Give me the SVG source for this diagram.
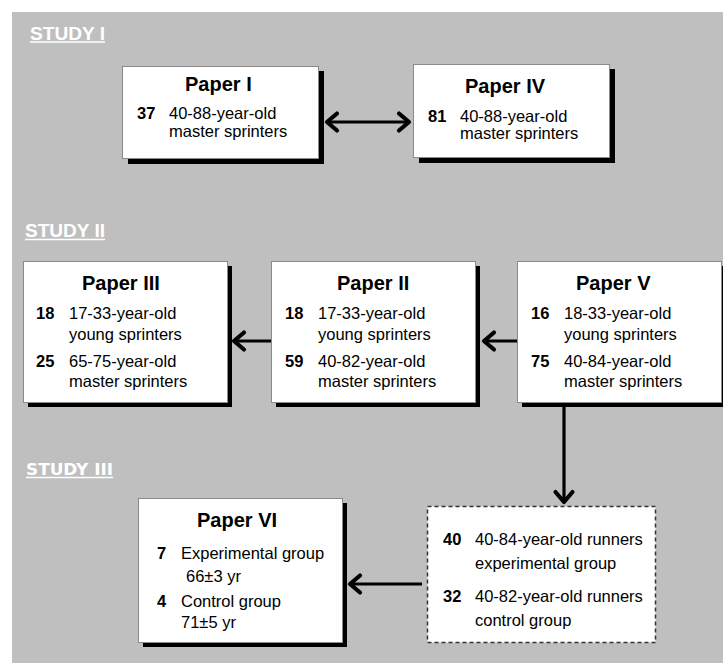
<svg xmlns="http://www.w3.org/2000/svg" width="723" height="663" viewBox="0 0 723 663">
<defs>
<style>
.bg{fill:#bfbfbf}
.box{fill:#fff;stroke:#8a8a8a;stroke-width:1}
.dbox{fill:#fff;stroke:#333;stroke-width:1.5;stroke-dasharray:4 3}
.sh{fill:#000}
.t{font-family:"Liberation Sans",Arial,sans-serif;font-weight:bold;font-size:20px;fill:#000}
.n{font-family:"Liberation Sans",Arial,sans-serif;font-weight:bold;font-size:16.5px;fill:#000}
.b{font-family:"Liberation Sans",Arial,sans-serif;font-size:16.5px;fill:#000}
.st{font-family:"Liberation Sans",Arial,sans-serif;font-weight:bold;font-size:18px;fill:#fff}
.st3{font-family:"DejaVu Sans",Verdana,sans-serif;font-weight:bold;font-size:15px;fill:#fff}
.ul{stroke:#fff;stroke-width:1.5}
.ar{stroke:#000;stroke-width:3.2;fill:none}
</style>
<marker id="ah" markerUnits="userSpaceOnUse" markerWidth="24" markerHeight="24" viewBox="-14 -12 16 24" refX="0" refY="0" orient="auto-start-reverse">
<path d="M-11,-8.5 L-1,0 L-11,8.5" fill="none" stroke="#000" stroke-width="4.2" stroke-linecap="round" stroke-linejoin="round"/>
</marker>
</defs>
<rect class="bg" x="12" y="12" width="711" height="651"/>

<g id="study1-label">
<text class="st" x="30" y="40" textLength="75" lengthAdjust="spacingAndGlyphs">STUDY I</text>
<line class="ul" x1="30" y1="42" x2="105" y2="42"/>
</g>
<g id="study2-label">
<text class="st" x="25" y="237" textLength="80" lengthAdjust="spacingAndGlyphs">STUDY II</text>
<line class="ul" x1="25" y1="239.5" x2="105" y2="239.5"/>
</g>
<g id="study3-label">
<text class="st3" x="26" y="475" textLength="87" lengthAdjust="spacingAndGlyphs">STUDY III</text>
<line class="ul" x1="26" y1="477.5" x2="113" y2="477.5"/>
</g>

<g id="paper1">
<rect class="sh" x="128" y="71" width="196" height="93"/>
<rect class="box" x="122.5" y="66.5" width="196" height="92"/>
<text class="t" x="185" y="91">Paper I</text>
<text class="n" x="137" y="119">37</text>
<text class="b" x="169" y="119">40-88-year-old</text>
<text class="b" x="169" y="136.5">master sprinters</text>
</g>

<g id="paper4">
<rect class="sh" x="419" y="69" width="196" height="94"/>
<rect class="box" x="413.5" y="64.5" width="196" height="93"/>
<text class="t" x="465" y="93">Paper IV</text>
<text class="n" x="428" y="122">81</text>
<text class="b" x="460" y="122">40-88-year-old</text>
<text class="b" x="460" y="139">master sprinters</text>
</g>

<g id="paper3">
<rect class="sh" x="28" y="266" width="204" height="141"/>
<rect class="box" x="23.5" y="261.5" width="204" height="141"/>
<text class="t" x="82" y="290">Paper III</text>
<text class="n" x="36" y="319">18</text>
<text class="b" x="69" y="319">17-33-year-old</text>
<text class="b" x="69" y="340">young sprinters</text>
<text class="n" x="36" y="367">25</text>
<text class="b" x="69" y="367">65-75-year-old</text>
<text class="b" x="69" y="387">master sprinters</text>
</g>

<g id="paper2">
<rect class="sh" x="276" y="266" width="204" height="141"/>
<rect class="box" x="271.5" y="261.5" width="204" height="141"/>
<text class="t" x="337" y="290">Paper II</text>
<text class="n" x="285" y="319">18</text>
<text class="b" x="318" y="319">17-33-year-old</text>
<text class="b" x="318" y="340">young sprinters</text>
<text class="n" x="285" y="367">59</text>
<text class="b" x="318" y="367">40-82-year-old</text>
<text class="b" x="318" y="387">master sprinters</text>
</g>

<g id="paper5">
<rect class="sh" x="522" y="266" width="204" height="141"/>
<rect class="box" x="517.5" y="261.5" width="204" height="141"/>
<text class="t" x="576" y="290">Paper V</text>
<text class="n" x="531" y="319">16</text>
<text class="b" x="564" y="319">18-33-year-old</text>
<text class="b" x="564" y="340">young sprinters</text>
<text class="n" x="531" y="367">75</text>
<text class="b" x="564" y="367">40-84-year-old</text>
<text class="b" x="564" y="387">master sprinters</text>
</g>

<g id="paper6">
<rect class="sh" x="143" y="503" width="204" height="144"/>
<rect class="box" x="138.5" y="498.5" width="204" height="144"/>
<text class="t" x="197" y="527">Paper VI</text>
<text class="n" x="157" y="559">7</text>
<text class="b" x="181" y="559">Experimental group</text>
<text class="b" x="186" y="582">66±3 yr</text>
<text class="n" x="157" y="607">4</text>
<text class="b" x="181" y="607">Control group</text>
<text class="b" x="181" y="628">71±5 yr</text>
</g>

<g id="runners">
<rect class="dbox" x="427.5" y="506.5" width="228" height="136"/>
<text class="n" x="443" y="545">40</text>
<text class="b" x="475" y="545">40-84-year-old runners</text>
<text class="b" x="475" y="569">experimental group</text>
<text class="n" x="443" y="602">32</text>
<text class="b" x="475" y="602">40-82-year-old runners</text>
<text class="b" x="475" y="626">control group</text>
</g>

<g id="connectors">
<line class="ar" x1="326" y1="122" x2="410" y2="122" marker-start="url(#ah)" marker-end="url(#ah)"/>
<line class="ar" x1="517" y1="341" x2="483" y2="341" marker-end="url(#ah)"/>
<line class="ar" x1="271" y1="341" x2="233" y2="341" marker-end="url(#ah)"/>
<line class="ar" x1="564" y1="407" x2="564" y2="503" marker-end="url(#ah)"/>
<line class="ar" x1="422" y1="584" x2="349" y2="584" marker-end="url(#ah)"/>
</g>
</svg>
